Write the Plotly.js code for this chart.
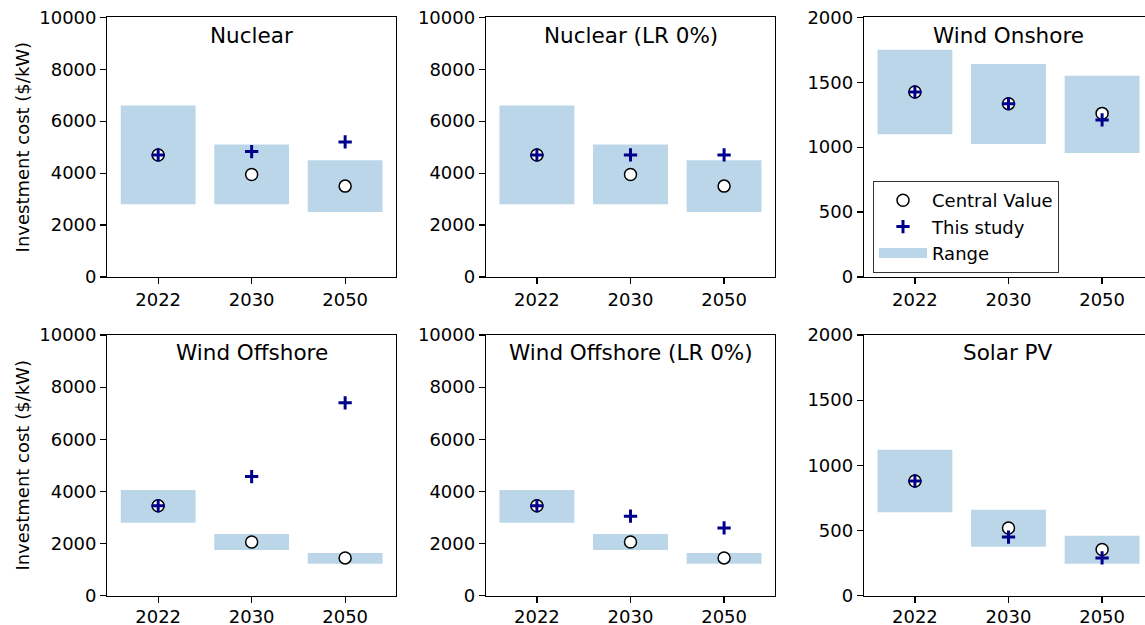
<!DOCTYPE html>
<html>
<head>
<meta charset="utf-8">
<script src="https://cdn.plot.ly/plotly-3.0.1.min.js"></script>
<style>
html,body{margin:0;padding:0;overflow:hidden;background:#fff;}
#chart{width:1153px;height:625px;}
</style>
</head>
<body>
<div id="chart"></div>
<script>
// ---- data ----
const categories = ['2022', '2030', '2050'];
const panelTitles = ['Nuclear', 'Nuclear (LR 0%)', 'Wind Onshore', 'Wind Offshore', 'Wind Offshore (LR 0%)', 'Solar PV'];

const nuclearLow = [2800, 2800, 2500];
const nuclearHigh = [6600, 5100, 4500];
const nuclearCentral = [4700, 3950, 3500];
const nuclearStudy = [4700, 4830, 5200];
const nuclearLR0Study = [4700, 4700, 4700];

const onshoreLow = [1100, 1025, 955];
const onshoreHigh = [1750, 1640, 1550];
const onshoreCentral = [1425, 1335, 1260];
const onshoreStudy = [1425, 1335, 1210];

const offshoreLow = [2800, 1750, 1230];
const offshoreHigh = [4050, 2370, 1640];
const offshoreCentral = [3450, 2060, 1450];
const offshoreStudy = [3450, 4570, 7400];
const offshoreLR0Study = [3450, 3050, 2600];

const solarLow = [640, 375, 245];
const solarHigh = [1120, 660, 460];
const solarCentral = [880, 520, 355];
const solarStudy = [880, 450, 290];

const yTicksBig = [0, 2000, 4000, 6000, 8000, 10000];
const yTicksSmall = [0, 500, 1000, 1500, 2000];

const panels = [
  {low: nuclearLow, high: nuclearHigh, central: nuclearCentral, study: nuclearStudy, ticks: yTicksBig},
  {low: nuclearLow, high: nuclearHigh, central: nuclearCentral, study: nuclearLR0Study, ticks: yTicksBig},
  {low: onshoreLow, high: onshoreHigh, central: onshoreCentral, study: onshoreStudy, ticks: yTicksSmall},
  {low: offshoreLow, high: offshoreHigh, central: offshoreCentral, study: offshoreStudy, ticks: yTicksBig},
  {low: offshoreLow, high: offshoreHigh, central: offshoreCentral, study: offshoreLR0Study, ticks: yTicksBig},
  {low: solarLow, high: solarHigh, central: solarCentral, study: solarStudy, ticks: yTicksSmall}
];

// ---- layout geometry ----
const W = 1153, H = 625;
const colPx = [[107.3, 396], [486, 775], [864, 1153]];
const rowPx = [[17.3, 277], [335, 595.7]];
const FONT = 'DejaVu Sans, Verdana, sans-serif';
const FS = 18;
const rangeColor = 'rgba(31,119,180,0.3)';

const traces = [];
const layout = {
  width: W, height: H,
  margin: {l: 0, r: 0, t: 0, b: 0},
  paper_bgcolor: '#fff', plot_bgcolor: '#fff',
  font: {family: FONT, size: FS, color: '#000'},
  showlegend: true,
  legend: {
    x: 873 / W, y: 1 - 181 / H, xanchor: 'left', yanchor: 'top',
    bgcolor: '#fff', bordercolor: '#333', borderwidth: 1,
    font: {family: FONT, size: FS, color: '#000'},
    itemwidth: 48,
    traceorder: 'normal'
  },
  annotations: [],
  bargap: 0.2
};

panels.forEach((p, i) => {
  const r = Math.floor(i / 3), c = i % 3;
  const n = i === 0 ? '' : String(i + 1);
  const xa = 'x' + n, ya = 'y' + n;
  const heights = p.high.map((h, k) => h - p.low[k]);
  traces.push({
    type: 'bar', x: categories, y: heights, base: p.low,
    xaxis: xa, yaxis: ya, width: 0.8,
    marker: {color: rangeColor, line: {width: 0}},
    name: 'Range', showlegend: false, hoverinfo: 'skip'
  });
  traces.push({
    type: 'scatter', mode: 'markers', x: categories, y: p.central,
    xaxis: xa, yaxis: ya,
    marker: {symbol: 'circle', size: 12, color: '#fff', line: {color: '#000', width: 1.5}},
    name: 'Central Value', showlegend: i === 2, legendrank: 1
  });
  traces.push({
    type: 'scatter', mode: 'markers', x: categories, y: p.study,
    xaxis: xa, yaxis: ya,
    marker: {symbol: 'cross-thin', size: 9.5, color: '#00008b', line: {color: '#00008b', width: 3}},
    name: 'This study', showlegend: i === 2, legendrank: 2
  });

  const tickLen = 6;
  layout['xaxis' + n] = {
    domain: [colPx[c][0] / W, colPx[c][1] / W],
    anchor: ya, type: 'category', range: [-0.544, 2.544],
    showline: true, mirror: true, linecolor: '#000', linewidth: 1.2,
    ticks: 'outside', ticklen: tickLen, tickwidth: 1.2, tickcolor: '#000',
    showgrid: false, zeroline: false, fixedrange: true,
    ticklabelstandoff: r === 1 ? -2 : 0,
    tickfont: {family: FONT, size: FS, color: '#000'}
  };
  layout['yaxis' + n] = {
    domain: [1 - rowPx[r][1] / H, 1 - rowPx[r][0] / H],
    anchor: xa, range: [p.ticks[0], p.ticks[p.ticks.length - 1]],
    tickvals: p.ticks, tickformat: 'd',
    showline: true, mirror: true, linecolor: '#000', linewidth: 1.2,
    ticks: 'outside', ticklen: tickLen, tickwidth: 1.2, tickcolor: '#000',
    showgrid: false, zeroline: false, fixedrange: true,
    tickfont: {family: FONT, size: FS, color: '#000'}
  };
  if (c === 0) {
    layout['yaxis' + n].title = {text: 'Investment cost ($/kW)', font: {family: FONT, size: FS, color: '#000'}, standoff: 5};
  }
  layout.annotations.push({
    xref: xa + ' domain', yref: ya + ' domain',
    x: 0.5, y: 1 - 17.7 / (rowPx[r][1] - rowPx[r][0]),
    xanchor: 'center', yanchor: 'middle', showarrow: false,
    text: panelTitles[i], font: {family: FONT, size: 21.5, color: '#000'}
  });
});

// legend-only entry for the range rectangle
traces.push({
  type: 'scatter', mode: 'lines', x: [null], y: [null], xaxis: 'x3', yaxis: 'y3',
  line: {color: rangeColor, width: 14}, name: 'Range', showlegend: true, legendrank: 3, hoverinfo: 'skip'
});

Plotly.newPlot('chart', traces, layout, {displayModeBar: false, staticPlot: true});
</script>
</body>
</html>
